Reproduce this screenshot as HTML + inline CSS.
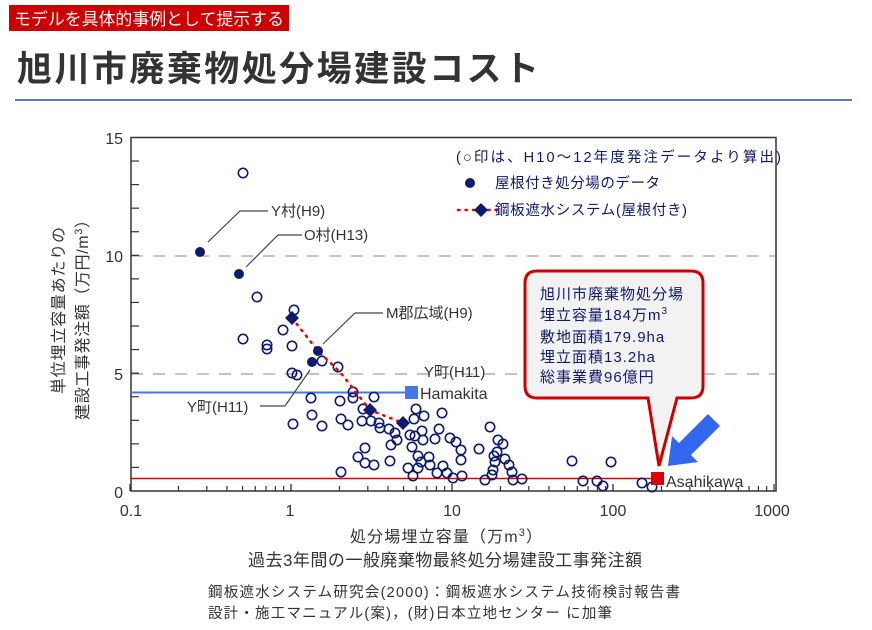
<!DOCTYPE html>
<html><head><meta charset="utf-8"><style>
body{margin:0;background:#fff;}
svg{display:block;font-family:"Liberation Sans","Noto Sans CJK JP",sans-serif;}
</style></head><body>
<svg id="s" width="872" height="630" viewBox="0 0 872 630" xmlns="http://www.w3.org/2000/svg">
<rect x="9" y="5" width="280" height="26" fill="#cc0000"/>
<text x="14" y="25" font-size="17" fill="#fff" textLength="270" lengthAdjust="spacingAndGlyphs">モデルを具体的事例として提示する</text>
<text x="17" y="81" font-size="35" font-weight="bold" fill="#333" textLength="522" lengthAdjust="spacing">旭川市廃棄物処分場建設コスト</text>
<line x1="15" y1="100" x2="852" y2="100" stroke="#3344aa" stroke-width="1.5"/>
<line x1="131" y1="256" x2="776" y2="256" stroke="#888" stroke-dasharray="12,10"/>
<line x1="131" y1="374" x2="776" y2="374" stroke="#888" stroke-dasharray="12,10"/>
<g id="ticks" stroke="#333" stroke-width="1.2"></g>
<rect x="131" y="137.5" width="645" height="353.5" fill="none" stroke="#333" stroke-width="1.5"/>
<g font-size="16" fill="#333" text-anchor="end">
<text x="123" y="144">15</text><text x="123" y="262">10</text><text x="123" y="380">5</text><text x="123" y="498">0</text>
</g>
<g font-size="16" fill="#333" text-anchor="middle">
<text x="131" y="516">0.1</text><text x="290" y="516">1</text><text x="452" y="516">10</text><text x="613" y="516">100</text><text x="772" y="516">1000</text>
</g>
<g font-size="16" fill="#333">
<text transform="translate(64,394) rotate(-90)" textLength="167" lengthAdjust="spacing">単位埋立容量あたりの</text>
<text transform="translate(88,420) rotate(-90)" textLength="208" lengthAdjust="spacing">建設工事発注額（万円/m<tspan font-size="11" dy="-6">3</tspan><tspan dy="6">）</tspan></text>
<text x="350" y="542" textLength="192" lengthAdjust="spacing">処分場埋立容量（万m<tspan font-size="11" dy="-6">3</tspan><tspan dy="6">）</tspan></text>
<text x="248" y="566" font-size="17" textLength="394" lengthAdjust="spacing">過去3年間の一般廃棄物最終処分場建設工事発注額</text>
</g>
<g font-size="14.5" fill="#333">
<text x="208" y="597" textLength="472" lengthAdjust="spacing">鋼板遮水システム研究会(2000)：鋼板遮水システム技術検討報告書</text>
<text x="208" y="618" textLength="404" lengthAdjust="spacing">設計・施工マニュアル(案)，(財)日本立地センター に加筆</text>
</g>
<line x1="131" y1="392.5" x2="406" y2="392.5" stroke="#4477ee" stroke-width="2"/>
<rect x="405" y="386" width="13" height="13" fill="#4477ee"/>
<text x="420" y="399" font-size="16" fill="#333">Hamakita</text>
<line x1="131" y1="478.5" x2="652" y2="478.5" stroke="#dd0000" stroke-width="1.5"/>
<g id="pts" fill="none" stroke="#0d1a6e" stroke-width="1.6"></g>
<polyline points="292,318 318,351 340,372 370,410 403,423" fill="none" stroke="#ee0000" stroke-width="2.5" stroke-dasharray="1.5,6" stroke-linecap="round"/>
<g fill="#0d1a6e">
<circle cx="200" cy="252" r="5"/><circle cx="239" cy="274" r="5"/><circle cx="318" cy="351" r="5"/><circle cx="312" cy="362" r="5"/>
<path d="M292,311 L299,318 L292,325 L285,318Z"/><path d="M370,403 L377,410 L370,417 L363,410Z"/><path d="M403,416 L410,423 L403,430 L396,423Z"/>
</g>
<g stroke="#444" fill="none" stroke-width="1.2">
<polyline points="208,242 240,211 268,211"/>
<polyline points="246,267 278,235 302,235"/>
<polyline points="323,344 355,313 383,313"/>
<polyline points="260,406 285,406 310,370"/>
</g>
<g font-size="15" fill="#333">
<text x="271" y="216">Y村(H9)</text>
<text x="304" y="240">O村(H13)</text>
<text x="386" y="318">M郡広域(H9)</text>
<text x="187" y="412">Y町(H11)</text>
<text x="424" y="377">Y町(H11)</text>
</g>
<g font-size="14.5" fill="#0d1a6e">
<text x="456" y="162" textLength="325" lengthAdjust="spacing">(○印は、H10～12年度発注データより算出)</text>
<circle cx="470" cy="183" r="5"/>
<text x="495" y="188" textLength="165" lengthAdjust="spacing">屋根付き処分場のデータ</text>
<line x1="458" y1="210" x2="500" y2="210" stroke="#ee0000" stroke-width="2.5" stroke-dasharray="1.5,6" stroke-linecap="round"/>
<path d="M481,203 L488,210 L481,217 L474,210Z"/>
<text x="495" y="215" textLength="192" lengthAdjust="spacing">鋼板遮水システム(屋根付き)</text>
</g>
<path d="M537,271 H691 Q703,271 703,283 V386 Q703,398 691,398 H677 L659,466 L648,398 H537 Q525,398 525,386 V283 Q525,271 537,271Z" fill="#f2f2f2" stroke="#cc0000" stroke-width="3"/>
<g font-size="15" fill="#0d1a6e" letter-spacing="1">
<text x="540" y="299">旭川市廃棄物処分場</text>
<text x="540" y="320">埋立容量184万m<tspan font-size="10" dy="-6">3</tspan></text>
<text x="540" y="342">敷地面積179.9ha</text>
<text x="540" y="362">埋立面積13.2ha</text>
<text x="540" y="382">総事業費96億円</text>
</g>
<rect x="651" y="472" width="13" height="13" fill="#dd0000"/>
<text x="666" y="487" font-size="16" fill="#333">Asahikawa</text>
<path d="M668,466 L672,436 L679,443 L708,414 L720,426 L691,455 L698,462Z" fill="#3366ee"/>
</svg>
<script>
var ns="http://www.w3.org/2000/svg",t=document.getElementById("ticks"),p=document.getElementById("pts");
function L(a,b,c,d){var l=document.createElementNS(ns,"line");l.setAttribute("x1",a);l.setAttribute("y1",b);l.setAttribute("x2",c);l.setAttribute("y2",d);t.appendChild(l);}
for(var i=1;i<15;i++){var y=491-i*23.57;L(131,y,139,y);}
for(var dcd=0;dcd<4;dcd++)for(var k=1;k<=10;k++){var x=130+161*(dcd+Math.log10(k));L(x,491,x,(k==1||k==10)?484:486);}
var c=[[243,173],[257,297],[294,310],[283,330],[243,339],[267,345],[267,349],[292,346],[322,361],[338,367],[292,373],[297,375],[353,392],[353,398],[311,398],[340,401],[374,397],[312,415],[293,424],[322,426],[341,419],[348,425],[362,421],[371,421],[379,423],[380,428],[389,429],[395,433],[397,440],[391,445],[416,409],[414,419],[424,416],[442,413],[410,435],[415,436],[422,431],[423,440],[412,447],[439,429],[435,439],[450,438],[456,442],[461,450],[461,460],[479,449],[490,427],[498,440],[503,444],[497,452],[494,456],[495,462],[493,470],[492,475],[485,480],[505,459],[509,465],[512,472],[513,480],[522,479],[365,448],[358,457],[365,463],[374,465],[390,461],[341,472],[418,456],[421,462],[429,457],[430,465],[418,468],[408,468],[413,476],[437,473],[443,466],[447,473],[453,478],[462,476],[363,409],[572,461],[611,462],[583,481],[597,481],[603,486],[642,483],[652,487]];
c.forEach(function(q){var e=document.createElementNS(ns,"circle");e.setAttribute("cx",q[0]);e.setAttribute("cy",q[1]);e.setAttribute("r",4.7);p.appendChild(e);});
</script>
</body></html>
